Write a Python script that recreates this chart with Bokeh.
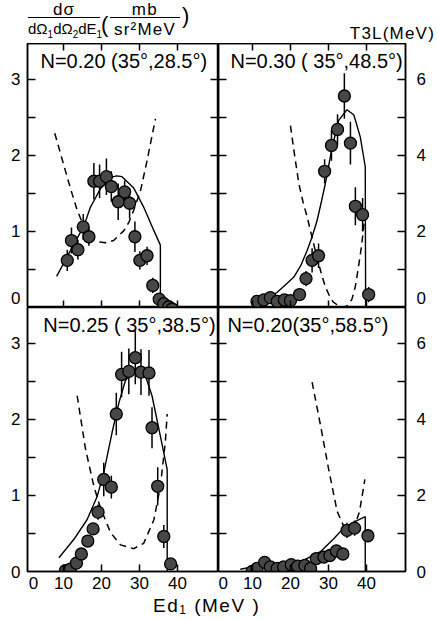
from bokeh.plotting import figure
from bokeh.layouts import gridplot, column
from bokeh.models import (Range1d, LinearAxis, FixedTicker, Label, Div, ColumnDataSource)
from bokeh.embed import file_html
from bokeh.resources import INLINE

# ---------------- data ----------------
# Top-left: N=0.20 (35°, 28.5°)
tl_E = [11.0, 12.1, 13.8, 15.2, 16.7, 18.0, 19.5, 21.3, 22.6, 24.4, 26.1, 27.4, 28.8, 30.1, 32.0, 33.5, 35.2, 36.4, 37.7, 38.6]
tl_v = [0.62, 0.88, 0.76, 1.06, 0.93, 1.66, 1.66, 1.72, 1.59, 1.39, 1.52, 1.37, 0.93, 0.62, 0.68, 0.29, 0.11, 0.05, 0.01, -0.02]
tl_err = [0.14, 0.17, 0.13, 0.17, 0.12, 0.24, 0.22, 0.24, 0.20, 0.24, 0.15, 0.20, 0.20, 0.12, 0.12, 0.10, 0.05, 0.04, 0.03, 0.03]
tl_fit_E = [8.2, 10.9, 13.0, 15.3, 17.1, 18.0, 19.7, 22.4, 24.0, 25.4, 28.5, 31.1, 33.8, 35.5, 35.5]
tl_fit_v = [0.41, 0.66, 0.86, 1.06, 1.32, 1.40, 1.56, 1.71, 1.73, 1.72, 1.57, 1.32, 1.01, 0.82, 0.0]
tl_t3_E = [7.7, 9.5, 11.0, 12.3, 13.6, 15.0, 16.7, 18.2, 19.7, 21.0, 23.2, 25.9, 27.3, 28.5, 30.3, 32.0, 34.2]
tl_t3 = [4.58, 3.95, 3.42, 2.98, 2.56, 2.22, 1.94, 1.78, 1.72, 1.70, 1.76, 2.02, 2.26, 2.56, 3.08, 3.86, 4.96]

# Top-right: N=0.30 (35°, 48.5°)
tr_E = [11.2, 13.0, 14.7, 16.5, 18.4, 20.0, 22.4, 24.1, 25.7, 27.4, 29.0, 30.8, 32.4, 34.2, 35.8, 37.1, 39.0, 40.6]
tr_v = [0.08, 0.10, 0.13, 0.08, 0.10, 0.09, 0.17, 0.38, 0.62, 0.68, 1.79, 2.13, 2.34, 2.78, 2.16, 1.33, 1.22, 0.17]
tr_err = [0.04, 0.05, 0.05, 0.04, 0.05, 0.05, 0.06, 0.10, 0.16, 0.16, 0.16, 0.20, 0.20, 0.30, 0.28, 0.25, 0.22, 0.10]
tr_fit_E = [15.0, 16.5, 18.5, 20.9, 22.7, 24.4, 25.7, 27.0, 28.1, 29.2, 31.0, 32.7, 34.9, 36.7, 38.4, 39.7, 39.8]
tr_fit_v = [0.15, 0.20, 0.29, 0.40, 0.55, 0.75, 0.93, 1.14, 1.38, 1.63, 2.11, 2.46, 2.60, 2.53, 2.24, 1.85, 0.0]
tr_t3_E = [20.0, 21.1, 22.2, 23.3, 24.4, 25.7, 27.0, 28.1, 29.2, 30.3, 31.3, 32.6, 34.0, 35.2, 36.2, 37.1, 37.9, 38.7, 39.3, 39.7]
tr_t3 = [4.78, 4.00, 3.26, 2.78, 2.38, 1.84, 1.32, 0.90, 0.54, 0.30, 0.14, 0.05, 0.00, 0.06, 0.22, 0.56, 1.06, 1.60, 2.12, 2.56]

# Bottom-left: N=0.25 (35°, 38.5°)
bl_E = [10.5, 11.8, 13.4, 14.7, 16.4, 17.8, 19.1, 20.6, 22.6, 23.9, 25.3, 27.2, 28.9, 30.4, 32.5, 33.3, 34.8, 36.4, 38.2]
bl_v = [0.01, 0.03, 0.11, 0.23, 0.40, 0.56, 0.78, 1.21, 1.11, 2.07, 2.59, 2.63, 2.81, 2.62, 2.61, 1.89, 1.12, 0.46, 0.10]
bl_err = [0.03, 0.04, 0.05, 0.06, 0.07, 0.08, 0.10, 0.22, 0.15, 0.28, 0.30, 0.30, 0.35, 0.30, 0.30, 0.27, 0.25, 0.15, 0.06]
bl_fit_E = [8.8, 12.7, 16.2, 18.9, 20.6, 22.8, 24.6, 26.3, 28.5, 30.0, 31.1, 33.3, 35.5, 37.3, 37.3]
bl_fit_v = [0.18, 0.42, 0.68, 0.99, 1.30, 1.83, 2.22, 2.51, 2.64, 2.66, 2.64, 2.31, 1.78, 1.34, 0.0]
bl_t3_E = [13.6, 15.8, 18.0, 19.7, 22.4, 25.0, 28.5, 31.1, 33.8, 35.5, 36.8, 37.3]
bl_t3 = [4.62, 3.22, 2.24, 1.68, 1.02, 0.70, 0.60, 0.74, 1.36, 2.24, 3.40, 4.14]

# Bottom-right: N=0.20 (35°, 58.5°)
br_E = [9.9, 11.2, 13.2, 14.7, 16.5, 18.2, 20.2, 21.9, 23.8, 25.3, 26.8, 28.8, 30.4, 32.1, 33.8, 34.9, 36.9, 40.4]
br_v = [0.00, 0.04, 0.12, 0.06, 0.04, 0.06, 0.09, 0.07, 0.08, 0.04, 0.17, 0.19, 0.21, 0.27, 0.23, 0.54, 0.57, 0.47]
br_err = [0.03, 0.04, 0.05, 0.04, 0.04, 0.04, 0.05, 0.04, 0.05, 0.05, 0.06, 0.08, 0.07, 0.08, 0.07, 0.10, 0.10, 0.08]
br_fit_E = [6.8, 12.1, 18.2, 23.5, 27.9, 31.4, 34.0, 36.7, 39.7, 39.7]
br_fit_v = [0.03, 0.08, 0.10, 0.15, 0.26, 0.43, 0.57, 0.65, 0.72, 0.0]
br_t3_E = [25.7, 28.0, 30.0, 32.3, 34.0, 35.5, 37.0, 38.2, 39.6]
br_t3 = [4.98, 3.80, 2.72, 1.58, 1.20, 1.10, 1.22, 1.58, 2.42]

titles = ["N=0.20  (35°,28.5°)", "N=0.30 ( 35°,48.5°)", "N=0.25 ( 35°,38.5°)", "N=0.20(35°,58.5°)"]
left_ticks = [0, 1, 2, 3]
half_ticks = [0.5, 1.0, 1.5, 2.0, 2.5, 3.0]
right_ticks = [0, 2, 4, 6]
right_minor = [1, 2, 3, 4, 5, 6]
x_ticks = [10, 20, 30, 40]
x_zero_pos = 2.1    # the printed "0" sits just right of the frame edge
y_zero_lift = 0.13  # the top panels print their "0" slightly above the lower edge

# ---------------- styling / layout ----------------
FONT = "Liberation Sans"
YMAX = 3.47
H = 264
XR_L = (0.53, 50.8)
XR_R = (1.05, 50.3)


def make_panel(xr, fw, bl, br, bt, bb):
    p = figure(frame_width=fw, frame_height=H, x_range=Range1d(*xr), y_range=Range1d(0, YMAX),
               x_axis_location=None, y_axis_location=None, output_backend="svg",
               toolbar_location=None, min_border=0, min_border_left=bl, min_border_right=br,
               min_border_top=bt, min_border_bottom=bb)
    p.extra_y_ranges = {"t3l": Range1d(0, 2 * YMAX)}
    p.grid.visible = False
    p.outline_line_color = "black"
    p.outline_line_width = 1.5
    p.background_fill_color = "white"
    p.border_fill_color = "white"
    return p


def add_axis(p, side, major, minor, tick=8, major_tick=0, standoff=0, rng=None,
             size="17px", overrides=None):
    ax = LinearAxis(ticker=FixedTicker(ticks=major, minor_ticks=minor))
    ax.major_tick_in = major_tick
    ax.major_tick_out = 0
    ax.minor_tick_in = tick
    ax.minor_tick_out = 0
    ax.axis_line_width = 1.5
    ax.major_tick_line_width = 1.5
    ax.minor_tick_line_width = 1.5
    ax.major_label_standoff = standoff
    ax.major_label_text_font = FONT
    ax.major_label_text_font_size = size
    ax.major_label_text_color = "black"
    if overrides:
        ax.major_label_overrides = overrides
    if rng:
        ax.y_range_name = rng
    p.add_layout(ax, side)
    return ax


def draw(p, E, v, err, fitE, fitv, t3E, t3, title, tx):
    p.line(fitE, fitv, line_color="black", line_width=1.4)
    p.line(t3E, t3, y_range_name="t3l", line_color="black", line_width=1.5, line_dash="7 5")
    src = ColumnDataSource(dict(E=E, v=v,
                                lo=[a - b for a, b in zip(v, err)],
                                hi=[a + b for a, b in zip(v, err)]))
    p.segment("E", "lo", "E", "hi", source=src, line_color="black", line_width=1.5)
    p.scatter("E", "v", source=src, size=12, marker="circle", fill_color="#474747",
              line_color="black", line_width=1.3)
    p.add_layout(Label(x=tx, y=3.24, text=title, text_font=FONT, text_font_size="20px",
                       text_align="left", text_baseline="middle", text_color="black"))


p1 = make_panel(XR_L, 191, 27, 0, 0, 0)
p2 = make_panel(XR_R, 187, 0, 30, 0, 0)
p3 = make_panel(XR_L, 191, 27, 0, 0, 24)
p4 = make_panel(XR_R, 187, 0, 30, 0, 24)

# left axes (labelled) and the ticks on the shared middle edge
add_axis(p1, "left", [y_zero_lift] + left_ticks[1:], half_ticks, standoff=7,
         overrides={y_zero_lift: "0"})
add_axis(p3, "left", left_ticks, half_ticks, standoff=7)
for p in (p1, p3):
    add_axis(p, "right", [], half_ticks)
for p in (p2, p4):
    add_axis(p, "left", [], half_ticks)
# right T3L axes
add_axis(p2, "right", [2 * y_zero_lift] + right_ticks[1:], right_minor, standoff=11, rng="t3l",
         overrides={2 * y_zero_lift: "0"})
add_axis(p4, "right", right_ticks, right_minor, standoff=11, rng="t3l")
# horizontal axes
for p in (p1, p2):
    add_axis(p, "above", [], x_ticks, tick=7)
    add_axis(p, "below", [], x_ticks, tick=7)
for p in (p3, p4):
    add_axis(p, "below", [x_zero_pos] + x_ticks, x_ticks, tick=7, standoff=5,
             overrides={x_zero_pos: "0"})

draw(p1, tl_E, tl_v, tl_err, tl_fit_E, tl_fit_v, tl_t3_E, tl_t3, titles[0], 3.95)
draw(p2, tr_E, tr_v, tr_err, tr_fit_E, tr_fit_v, tr_t3_E, tr_t3, titles[1], 4.2)
draw(p3, bl_E, bl_v, bl_err, bl_fit_E, bl_fit_v, bl_t3_E, bl_t3, titles[2], 4.7)
draw(p4, br_E, br_v, br_err, br_fit_E, br_fit_v, br_t3_E, br_t3, titles[3], 3.4)

# ---------------- header (y-axis quantity and T3L unit) ----------------
SUB = 'style="font-size:10px; line-height:0;"'
header_html = (
    '<div style="position:relative; width:435px; height:43px; font-family:\'Liberation Sans\'; color:black;">'
    '<div style="position:absolute; left:28px; top:2px; width:72px; text-align:center;">'
    '<div style="font-size:17px; line-height:16px; height:16px; letter-spacing:1px; '
    'border-bottom:1.3px solid black;">dσ</div>'
    '<div style="font-size:15px; line-height:15px; padding-top:3px; white-space:nowrap;">'
    f'dΩ<sub {SUB}>1</sub>dΩ<sub {SUB}>2</sub>dE<sub {SUB}>1</sub></div>'
    '</div>'
    '<div style="position:absolute; left:101px; top:14px; font-size:22px; line-height:22px;">(</div>'
    '<div style="position:absolute; left:110px; top:2px; width:70px; text-align:center;">'
    '<div style="font-size:17px; line-height:16px; height:16px; letter-spacing:1.5px; '
    'border-bottom:1.3px solid black;">mb</div>'
    '<div style="font-size:17px; line-height:17px; padding-top:3px; letter-spacing:1.2px; white-space:nowrap;">'
    'sr²MeV</div>'
    '</div>'
    '<div style="position:absolute; left:182px; top:5px; font-size:22px; line-height:22px;">)</div>'
    '<div style="position:absolute; right:0px; top:25px; font-size:17px; line-height:17px; '
    'letter-spacing:1.2px; white-space:nowrap;">T3L(MeV)</div>'
    '</div>'
)
header = Div(text=header_html, width=435, height=43, margin=(0, 0, 0, 0))

xlabel = Div(text='<div style="position:relative; width:435px; height:24px;">'
                  '<span style="position:absolute; left:153px; top:1px; font-family:\'Liberation Sans\';'
                  ' font-size:19px; line-height:19px; letter-spacing:1.5px; white-space:nowrap; color:black;">'
                  'Ed<span style="font-size:12px; line-height:0; vertical-align:-2px;">1</span>'
                  ' (MeV )</span></div>',
             width=435, height=24, margin=(0, 0, 0, 0))

grid = gridplot([[p1, p2], [p3, p4]], toolbar_location=None)
layout = column(header, grid, xlabel)

open("out.html", "w").write(file_html(layout, INLINE))
